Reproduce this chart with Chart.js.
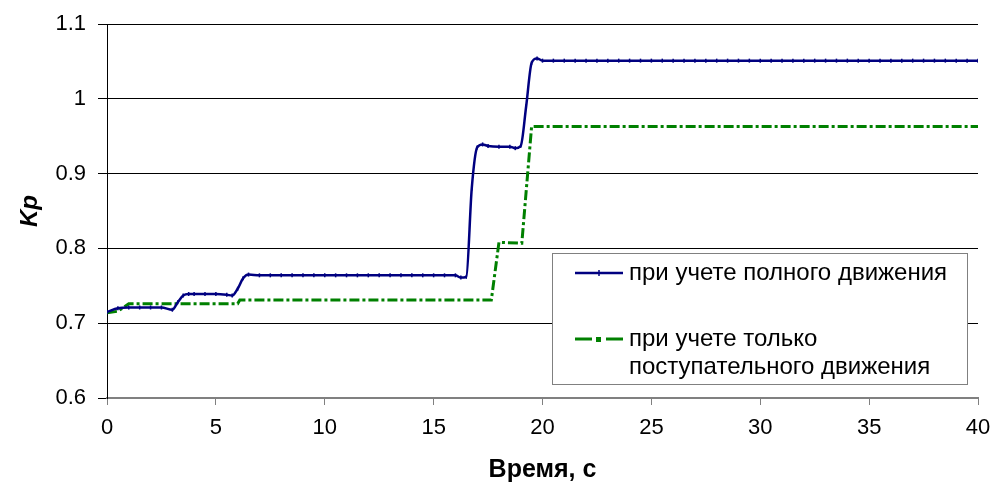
<!DOCTYPE html>
<html>
<head>
<meta charset="utf-8">
<script src="https://cdn.jsdelivr.net/npm/chart.js@4.4.1/dist/chart.umd.min.js"></script>
<style>
  html, body { margin: 0; padding: 0; background: #fff; }
  #wrap { width: 994px; height: 493px; }
</style>
</head>
<body>
<div id="wrap"><canvas id="kpChart"></canvas></div>
<script>
// time, s
const fullTime = [0, 0.5, 1, 1.5, 2, 2.5, 3, 3.25, 3.5, 3.75, 4, 4.5, 5, 5.5, 5.75, 6, 6.25, 6.5,
    7, 7.5, 8, 8.5, 9, 9.5, 10, 10.5, 11, 11.5, 12, 12.5, 13, 13.5, 14, 14.5, 15, 15.5, 16,
    16.25, 16.5, 16.75, 17, 17.25, 17.5, 18, 18.5, 18.75, 19, 19.25, 19.5, 19.75,
    20, 20.5, 21, 21.5, 22, 22.5, 23, 23.5, 24, 24.5, 25, 25.5, 26, 26.5, 27, 27.5, 28, 28.5, 29, 29.5,
    30, 30.5, 31, 31.5, 32, 32.5, 33, 33.5, 34, 34.5, 35, 35.5, 36, 36.5, 37, 37.5, 38, 38.5, 39, 39.5, 40];
// Kp, full motion
const fullKp = [0.715, 0.720, 0.721, 0.721, 0.721, 0.721, 0.718, 0.728, 0.737, 0.739, 0.739, 0.739, 0.739, 0.738, 0.737, 0.746, 0.760, 0.765,
    0.764, 0.764, 0.764, 0.764, 0.764, 0.764, 0.764, 0.764, 0.764, 0.764, 0.764, 0.764, 0.764, 0.764, 0.764, 0.764, 0.764, 0.764, 0.764,
    0.761, 0.762, 0.880, 0.935, 0.939, 0.937, 0.936, 0.936, 0.934, 0.937, 0.990, 1.048, 1.054,
    1.051, 1.051, 1.051, 1.051, 1.051, 1.051, 1.051, 1.051, 1.051, 1.051, 1.051, 1.051, 1.051, 1.051, 1.051, 1.051, 1.051, 1.051, 1.051, 1.051,
    1.051, 1.051, 1.051, 1.051, 1.051, 1.051, 1.051, 1.051, 1.051, 1.051, 1.051, 1.051, 1.051, 1.051, 1.051, 1.051, 1.051, 1.051, 1.051, 1.051, 1.051];
// translational motion only
const transTime = [0, 0.5, 1, 6, 6.1, 17.65, 18, 19.05, 19.5, 40];
const transKp = [0.714, 0.716, 0.726, 0.726, 0.731, 0.731, 0.808, 0.807, 0.963, 0.963];

const seriesLabels = [['при учете полного движения'], ['при учете только', 'поступательного движения']];
const yTicks = [0.6, 0.7, 0.8, 0.9, 1, 1.1];

const FONT = "'Liberation Sans', Arial, sans-serif";
const pairs = (xs, ys) => xs.map((x, i) => ({ x: x, y: ys[i] }));

// legend box inside the plot, Excel style
const boxLegend = {
    id: 'boxLegend',
    afterDraw(chart) {
        const ctx = chart.ctx;
        const bx = 552.5, by = 253.5, bw = 415, bh = 131;
        ctx.save();
        ctx.fillStyle = '#fff';
        ctx.fillRect(bx, by, bw, bh);
        ctx.strokeStyle = '#808080';
        ctx.lineWidth = 1;
        ctx.strokeRect(bx, by, bw, bh);

        const rows = [273, 339];
        chart.data.datasets.forEach((ds, i) => {
            const y = rows[i];
            ctx.strokeStyle = ds.borderColor;
            ctx.lineWidth = ds.borderWidth;
            ctx.setLineDash([]);
            if (i === 0) {
                ctx.beginPath(); ctx.moveTo(575, y); ctx.lineTo(623, y); ctx.stroke();
                ctx.lineWidth = 1.5;
                ctx.beginPath(); ctx.moveTo(599, y - 3); ctx.lineTo(599, y + 3); ctx.stroke();
            } else {
                ctx.beginPath(); ctx.moveTo(575, y); ctx.lineTo(592, y); ctx.stroke();
                ctx.beginPath(); ctx.moveTo(606, y); ctx.lineTo(623, y); ctx.stroke();
                ctx.fillStyle = ds.borderColor;
                ctx.fillRect(596, y - 2, 5, 5);
            }
            ctx.fillStyle = '#000';
            ctx.font = '24px ' + FONT;
            ctx.textBaseline = 'middle';
            ctx.textAlign = 'left';
            seriesLabels[i].forEach((line, k) => ctx.fillText(line, 629, y + k * 28));
        });
        ctx.restore();
    }
};

new Chart(document.getElementById('kpChart'), {
    type: 'line',
    data: {
        datasets: [{
            label: seriesLabels[0].join(' '),
            data: pairs(fullTime, fullKp),
            borderColor: '#000080',
            borderWidth: 2.5,
            pointStyle: 'line',
            rotation: 90,
            pointRadius: 2,
            pointBorderWidth: 1.5,
            pointBorderColor: '#000080',
            cubicInterpolationMode: 'monotone'
        }, {
            label: seriesLabels[1].join(' '),
            data: pairs(transTime, transKp),
            borderColor: '#008000',
            borderWidth: 3,
            borderDash: [10, 3, 3, 3],
            pointRadius: 0,
            tension: 0
        }]
    },
    options: {
        responsive: true,
        maintainAspectRatio: false,
        animation: false,
        layout: { padding: { left: 0, right: 16, top: 24, bottom: 0 } },
        plugins: { legend: { display: false }, tooltip: { enabled: false } },
        scales: {
            x: {
                type: 'linear',
                min: 0, max: 40,
                ticks: { stepSize: 5, color: '#000', font: { family: FONT, size: 22 }, padding: 10, maxRotation: 0 },
                grid: { drawOnChartArea: false, drawTicks: true, tickLength: 7, color: '#808080', lineWidth: 1 },
                border: { color: '#808080', width: 2 },
                title: { display: true, text: 'Время, с', color: '#000', font: { family: FONT, size: 25, weight: 'bold' }, padding: { top: 0, bottom: 8 } },
                afterFit(scale) { scale.height = 95; scale.paddingLeft = 0; scale.paddingRight = 0; }
            },
            y: {
                min: 0.6, max: 1.1,
                afterBuildTicks(scale) { scale.ticks = yTicks.map(v => ({ value: v })); },
                ticks: { color: '#000', font: { family: FONT, size: 22 }, padding: 12, callback: v => String(Math.round(v * 10) / 10) },
                grid: { color: '#000', lineWidth: 1, tickLength: 9 },
                border: { color: '#000', width: 1 },
                title: { display: true, text: 'Kp', color: '#000', font: { family: FONT, size: 24, weight: 'bold', style: 'italic' }, padding: { top: 16, bottom: 0 } },
                afterFit(scale) { scale.width = 107; scale.paddingTop = 0; scale.paddingBottom = 0; }
            }
        }
    },
    plugins: [boxLegend]
});
</script>
</body>
</html>
